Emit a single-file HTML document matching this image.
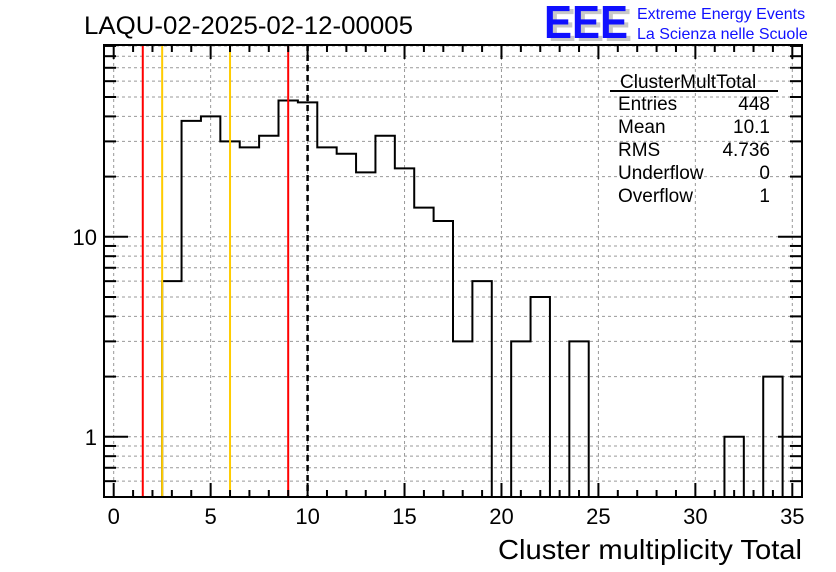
<!DOCTYPE html>
<html><head><meta charset="utf-8"><style>
body{margin:0;background:#fff;}
svg{display:block;font-family:"Liberation Sans",sans-serif;}
</style></head><body>
<svg id="c" width="836" height="572">
<text x="84" y="34" font-size="25" textLength="329" lengthAdjust="spacingAndGlyphs">LAQU-02-2025-02-12-00005</text>
<g>
<text x="548" y="41" font-size="46" font-weight="bold" fill="#c8c8c8" textLength="84" lengthAdjust="spacingAndGlyphs">EEE</text>
<text x="544" y="38" font-size="46" font-weight="bold" fill="#1010ff" textLength="84" lengthAdjust="spacingAndGlyphs">EEE</text>
<text x="637" y="19" font-size="16" fill="#1010ff">Extreme Energy Events</text>
<text x="637" y="39" font-size="16" fill="#1010ff">La Scienza nelle Scuole</text>
</g>
<g id="grid"></g>
<g id="marks"></g>
<g id="axes"></g>
<g font-size="19">
<text x="620" y="88">ClusterMultTotal</text>
<line x1="610" y1="91" x2="778" y2="91" stroke="#000" stroke-width="2"/>
<text x="618" y="110">Entries</text><text x="770" y="110" text-anchor="end">448</text>
<text x="618" y="133">Mean</text><text x="770" y="133" text-anchor="end">10.1</text>
<text x="618" y="156">RMS</text><text x="770" y="156" text-anchor="end">4.736</text>
<text x="618" y="179">Underflow</text><text x="770" y="179" text-anchor="end">0</text>
<text x="618" y="202">Overflow</text><text x="770" y="202" text-anchor="end">1</text>
</g>
<text x="498" y="559" font-size="28" textLength="304" lengthAdjust="spacingAndGlyphs">Cluster multiplicity Total</text>
</svg>
<script>
const binCenters=[3,4,5,6,7,8,9,10,11,12,13,14,15,16,17,18,19,20,21,22,23,24,25,26,27,28,29,30,31,32,33,34];
const counts=[6,38,40,30,28,32,48,47,28,26,21,32,22,14,12,3,6,0,3,5,0,3,0,0,0,0,0,0,0,1,0,2];
const xTicks=[0,5,10,15,20,25,30,35];
const yTicks=[1,10];
const cutLines=[{v:1.5,c:"#ff0000"},{v:2.5,c:"#ffcc00"},{v:6,c:"#ffcc00"},{v:9,c:"#ff0000"}];
const meanLine=[10];

const L=104,R=802,T=45,B=497,xmin=-0.5,xmax=35.5,ymin=0.5,ymax=91;
const X=v=>L+(v-xmin)/(xmax-xmin)*(R-L);
const Y=v=>B-(Math.log10(v)-Math.log10(ymin))/(Math.log10(ymax)-Math.log10(ymin))*(B-T);
const NS="http://www.w3.org/2000/svg";
function mk(tag,attrs,parent){const e=document.createElementNS(NS,tag);for(const k in attrs)e.setAttribute(k,attrs[k]);parent.appendChild(e);return e;}
const grid=document.getElementById('grid'),marks=document.getElementById('marks'),axes=document.getElementById('axes');
xTicks.forEach(t=>{const l=mk('line',{x1:X(t),x2:X(t),y1:T,y2:B,stroke:'#999','stroke-dasharray':'3,3'},grid);

});
const yMinor=[];[0.1,1,10].forEach(d=>{for(let k=1;k<=9;k++){const v=k*d;if(v>=ymin&&v<=ymax)yMinor.push(v);}});
yMinor.forEach(v=>{const l=mk('line',{x1:L,x2:R,y1:Y(v),y2:Y(v),stroke:'#999','stroke-dasharray':'3,3'},grid);

});
let d='';let started=false;
binCenters.forEach((c,i)=>{const v=counts[i];const y=v>0?Y(v):B;
if(!started){d+='M'+X(c-0.5)+','+B;started=true;}
d+=' L'+X(c-0.5)+','+y+' L'+X(c+0.5)+','+y;});
d+=' L'+X(binCenters[binCenters.length-1]+0.5)+','+B;
const h=mk('path',{d:d,fill:'none',stroke:'#000','stroke-width':2},marks);


cutLines.forEach(o=>{const l=mk('line',{x1:X(o.v),x2:X(o.v),y1:T,y2:B,stroke:o.c,'stroke-width':2},marks);

});
meanLine.forEach(v=>{const l=mk('line',{x1:X(v),x2:X(v),y1:T,y2:B,stroke:'#000','stroke-width':2.5,'stroke-dasharray':'6,4'},marks);

});
const f=mk('rect',{x:L,y:T,width:R-L,height:B-T,fill:'none',stroke:'#000','stroke-width':2},axes);


for(let t=0;t<=35;t++){const len=t%5===0?14:7;
mk('line',{x1:X(t),x2:X(t),y1:B,y2:B-len,stroke:'#000','stroke-width':2},axes);
mk('line',{x1:X(t),x2:X(t),y1:T,y2:T+len,stroke:'#000','stroke-width':2},axes);}
xTicks.forEach(t=>{const tx=mk('text',{x:X(t),y:524,'font-size':22,'text-anchor':'middle'},axes);tx.textContent=t;

});
yMinor.forEach(v=>{const maj=yTicks.includes(v);const len=maj?24:12;
mk('line',{x1:L,x2:L+len,y1:Y(v),y2:Y(v),stroke:'#000','stroke-width':2},axes);
mk('line',{x1:R,x2:R-len,y1:Y(v),y2:Y(v),stroke:'#000','stroke-width':2},axes);});
yTicks.forEach(v=>{const tx=mk('text',{x:L-7,y:Y(v)+8,'font-size':22,'text-anchor':'end'},axes);tx.textContent=v;

});
</script>
</body></html>
